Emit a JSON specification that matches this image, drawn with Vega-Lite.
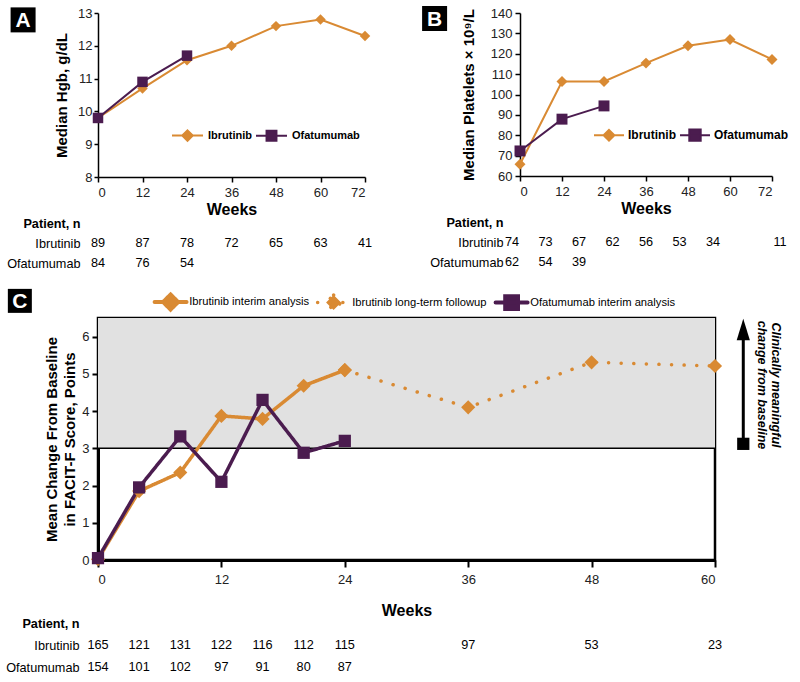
{
  "$schema": "https://vega.github.io/schema/vega-lite/v6.json",
  "background": "white",
  "padding": {"left": 5, "top": 6, "right": 0, "bottom": 0},
  "config": {
    "font": "Liberation Sans",
    "view": {"stroke": null},
    "axis": {
      "grid": false,
      "labelFont": "Liberation Sans",
      "labelFontSize": 13,
      "labelColor": "#222",
      "labelOverlap": false,
      "titleFont": "Liberation Sans",
      "titleFontWeight": "bold",
      "titleColor": "black",
      "domainColor": "black",
      "domainWidth": 1.5,
      "tickColor": "black",
      "tickWidth": 1.5,
      "zindex": 1
    },
    "legend": {"labelFont": "Liberation Sans", "labelColor": "black", "padding": 0}
  },
  "spacing": 17,
  "resolve": {
    "scale": {"color": "independent", "fill": "independent", "shape": "independent", "strokeDash": "independent"},
    "legend": {"color": "independent"}
  },
  "vconcat": [
    {
      "spacing": 49,
      "resolve": {
        "scale": {"color": "independent", "fill": "independent", "shape": "independent", "strokeDash": "independent"},
        "legend": {"color": "independent"}
      },
      "hconcat": [
        {
          "spacing": 0,
          "vconcat": [
            {
              "width": 267,
              "height": 164,
              "data": {"values": [
                {"series": "Ibrutinib", "week": 0, "value": 9.8},
                {"series": "Ibrutinib", "week": 12, "value": 10.7},
                {"series": "Ibrutinib", "week": 24, "value": 11.56},
                {"series": "Ibrutinib", "week": 36, "value": 12.0},
                {"series": "Ibrutinib", "week": 48, "value": 12.6},
                {"series": "Ibrutinib", "week": 60, "value": 12.8},
                {"series": "Ibrutinib", "week": 72, "value": 12.3},
                {"series": "Ofatumumab", "week": 0, "value": 9.8},
                {"series": "Ofatumumab", "week": 12, "value": 10.9},
                {"series": "Ofatumumab", "week": 24, "value": 11.7}
              ]},
              "layer": [
                {
                  "mark": {"type": "line", "strokeWidth": 2},
                  "encoding": {
                    "x": {"field": "week", "type": "quantitative", "scale": {"domain": [0, 72], "nice": false},
                      "axis": {"values": [0, 12, 24, 36, 48, 60, 72], "title": "Weeks", "titleFontSize": 16, "titlePadding": 2, "labelPadding": 4, "tickSize": 5}},
                    "y": {"field": "value", "type": "quantitative", "scale": {"domain": [8, 13], "nice": false, "zero": false},
                      "axis": {"values": [8, 9, 10, 11, 12, 13], "tickCount": 6, "title": "Median Hgb, g/dL", "titleFontSize": 15, "titlePadding": 8, "tickSize": 4, "labelPadding": 2}},
                    "color": {"field": "series", "type": "nominal",
                      "scale": {"domain": ["Ibrutinib", "Ofatumumab"], "range": ["#D98A33", "#4B1C4F"]},
                      "legend": {
                        "orient": "none", "legendX": 73, "legendY": 106, "direction": "horizontal", "title": null,
                        "labelFontSize": 11, "labelFontWeight": "bold", "labelOffset": 4, "columnPadding": 0,
                        "symbolSize": 961, "symbolStrokeWidth": 2,
                        "encode": {"symbols": {"update": {
                          "shape": {"signal": "datum.value === 'Ibrutinib' ? 'M-1,0L1,0M0,-0.34L0.34,0L0,0.34L-0.34,0Z' : 'M-1,0L1,0M-0.32,-0.32L0.32,-0.32L0.32,0.32L-0.32,0.32Z'"},
                          "fill": {"signal": "datum.value === 'Ibrutinib' ? '#D98A33' : '#4B1C4F'"},
                          "stroke": {"signal": "datum.value === 'Ibrutinib' ? '#D98A33' : '#4B1C4F'"},
                          "strokeWidth": {"value": 2},
                          "opacity": {"value": 1},
                          "size": {"value": 961}
                        }}}
                      }}
                  }
                },
                {
                  "transform": [{"filter": "datum.series === 'Ibrutinib'"}],
                  "mark": {"type": "point", "shape": "diamond", "filled": true, "color": "#D98A33", "opacity": 1, "size": 110},
                  "encoding": {"x": {"field": "week", "type": "quantitative"}, "y": {"field": "value", "type": "quantitative"}}
                },
                {
                  "transform": [{"filter": "datum.series === 'Ofatumumab'"}],
                  "mark": {"type": "point", "shape": "square", "filled": true, "color": "#4B1C4F", "opacity": 1, "size": 110},
                  "encoding": {"x": {"field": "week", "type": "quantitative"}, "y": {"field": "value", "type": "quantitative"}}
                },
                {
                  "data": {"values": [{"badge": "A"}]},
                  "mark": {"type": "point", "shape": "square", "filled": true, "color": "black", "opacity": 1, "size": 625},
                  "encoding": {"x": {"datum": -20.2, "type": "quantitative"}, "y": {"datum": 12.79, "type": "quantitative"}}
                },
                {
                  "data": {"values": [{"badge": "A"}]},
                  "mark": {"type": "text", "color": "white", "fontSize": 21, "fontWeight": "bold", "baseline": "middle", "dy": 1},
                  "encoding": {"x": {"datum": -20.2, "type": "quantitative"}, "y": {"datum": 12.79, "type": "quantitative"}, "text": {"field": "badge"}}
                }
              ]
            },
            {
              "width": 267,
              "height": 40,
              "data": {"values": [
                {"row": "Ibrutinib", "week": 0, "n": 89},
                {"row": "Ibrutinib", "week": 12, "n": 87},
                {"row": "Ibrutinib", "week": 24, "n": 78},
                {"row": "Ibrutinib", "week": 36, "n": 72},
                {"row": "Ibrutinib", "week": 48, "n": 65},
                {"row": "Ibrutinib", "week": 60, "n": 63},
                {"row": "Ibrutinib", "week": 72, "n": 41},
                {"row": "Ofatumumab", "week": 0, "n": 84},
                {"row": "Ofatumumab", "week": 12, "n": 76},
                {"row": "Ofatumumab", "week": 24, "n": 54}
              ]},
              "mark": {"type": "text", "fontSize": 12.7, "color": "black"},
              "encoding": {
                "x": {"field": "week", "type": "quantitative", "scale": {"domain": [0, 72], "nice": false}, "axis": null},
                "y": {"field": "row", "type": "nominal",
                  "scale": {"type": "point", "domain": ["Patient, n", "Ibrutinib", "Ofatumumab"], "padding": 0},
                  "axis": {"title": null, "domain": false, "ticks": false, "labelPadding": 18, "labelFontSize": 12.7, "labelColor": "black",
                    "labelFontWeight": {"condition": {"test": "datum.value === 'Patient, n'", "value": "bold"}, "value": "normal"}}},
                "text": {"field": "n", "type": "quantitative"}
              }
            }
          ]
        },
        {
          "spacing": 0,
          "vconcat": [
            {
              "width": 252,
              "height": 163,
              "data": {"values": [
                {"series": "Ibrutinib", "week": 0, "value": 65.8},
                {"series": "Ibrutinib", "week": 12, "value": 106.4},
                {"series": "Ibrutinib", "week": 24, "value": 106.4},
                {"series": "Ibrutinib", "week": 36, "value": 115.4},
                {"series": "Ibrutinib", "week": 48, "value": 123.9},
                {"series": "Ibrutinib", "week": 60, "value": 127.0},
                {"series": "Ibrutinib", "week": 72, "value": 117.2},
                {"series": "Ofatumumab", "week": 0, "value": 72.3},
                {"series": "Ofatumumab", "week": 12, "value": 87.9},
                {"series": "Ofatumumab", "week": 24, "value": 94.4}
              ]},
              "layer": [
                {
                  "mark": {"type": "line", "strokeWidth": 2},
                  "encoding": {
                    "x": {"field": "week", "type": "quantitative", "scale": {"domain": [0, 72], "nice": false},
                      "axis": {"values": [0, 12, 24, 36, 48, 60, 72], "title": "Weeks", "titleFontSize": 16, "titlePadding": 2, "labelPadding": 4, "tickSize": 5}},
                    "y": {"field": "value", "type": "quantitative", "scale": {"domain": [60, 140], "nice": false, "zero": false},
                      "axis": {"values": [60, 70, 80, 90, 100, 110, 120, 130, 140], "tickCount": 9, "title": "Median Platelets × 10⁹/L", "titleFontSize": 15, "titlePadding": 14, "tickSize": 5, "labelPadding": 3}},
                    "color": {"field": "series", "type": "nominal",
                      "scale": {"domain": ["Ibrutinib", "Ofatumumab"], "range": ["#D98A33", "#4B1C4F"]},
                      "legend": {
                        "orient": "none", "legendX": 73, "legendY": 106, "direction": "horizontal", "title": null,
                        "labelFontSize": 12, "labelFontWeight": "bold", "labelOffset": 3, "columnPadding": 0,
                        "symbolSize": 900, "symbolStrokeWidth": 2,
                        "encode": {"symbols": {"update": {
                          "shape": {"signal": "datum.value === 'Ibrutinib' ? 'M-1,0L1,0M0,-0.36L0.36,0L0,0.36L-0.36,0Z' : 'M-1,0L1,0M-0.38,-0.38L0.38,-0.38L0.38,0.38L-0.38,0.38Z'"},
                          "fill": {"signal": "datum.value === 'Ibrutinib' ? '#D98A33' : '#4B1C4F'"},
                          "stroke": {"signal": "datum.value === 'Ibrutinib' ? '#D98A33' : '#4B1C4F'"},
                          "strokeWidth": {"value": 2},
                          "opacity": {"value": 1},
                          "size": {"value": 900}
                        }}}
                      }}
                  }
                },
                {
                  "transform": [{"filter": "datum.series === 'Ibrutinib'"}],
                  "mark": {"type": "point", "shape": "diamond", "filled": true, "color": "#D98A33", "opacity": 1, "size": 120},
                  "encoding": {"x": {"field": "week", "type": "quantitative"}, "y": {"field": "value", "type": "quantitative"}}
                },
                {
                  "transform": [{"filter": "datum.series === 'Ofatumumab'"}],
                  "mark": {"type": "point", "shape": "square", "filled": true, "color": "#4B1C4F", "opacity": 1, "size": 120},
                  "encoding": {"x": {"field": "week", "type": "quantitative"}, "y": {"field": "value", "type": "quantitative"}}
                },
                {
                  "data": {"values": [{"badge": "B"}]},
                  "mark": {"type": "point", "shape": "square", "filled": true, "color": "black", "opacity": 1, "size": 625},
                  "encoding": {"x": {"datum": -24.4, "type": "quantitative"}, "y": {"datum": 137.3, "type": "quantitative"}}
                },
                {
                  "data": {"values": [{"badge": "B"}]},
                  "mark": {"type": "text", "color": "white", "fontSize": 21, "fontWeight": "bold", "baseline": "middle", "dy": 1},
                  "encoding": {"x": {"datum": -24.4, "type": "quantitative"}, "y": {"datum": 137.3, "type": "quantitative"}, "text": {"field": "badge"}}
                }
              ]
            },
            {
              "width": 252,
              "height": 40,
              "data": {"values": [
                {"row": "Ibrutinib", "col": 0, "n": 74},
                {"row": "Ibrutinib", "col": 1, "n": 73},
                {"row": "Ibrutinib", "col": 2, "n": 67},
                {"row": "Ibrutinib", "col": 3, "n": 62},
                {"row": "Ibrutinib", "col": 4, "n": 56},
                {"row": "Ibrutinib", "col": 5, "n": 53},
                {"row": "Ibrutinib", "col": 6, "n": 34},
                {"row": "Ibrutinib", "col": 8, "n": 11},
                {"row": "Ofatumumab", "col": 0, "n": 62},
                {"row": "Ofatumumab", "col": 1, "n": 54},
                {"row": "Ofatumumab", "col": 2, "n": 39}
              ]},
              "mark": {"type": "text", "fontSize": 12.7, "color": "black"},
              "encoding": {
                "x": {"field": "col", "type": "quantitative", "scale": {"domain": [0.24, 7.76], "nice": false, "zero": false}, "axis": null},
                "y": {"field": "row", "type": "nominal",
                  "scale": {"type": "point", "domain": ["Patient, n", "Ibrutinib", "Ofatumumab"], "padding": 0},
                  "axis": {"title": null, "domain": false, "ticks": false, "labelPadding": 17, "labelFontSize": 12.7, "labelColor": "black",
                    "labelFontWeight": {"condition": {"test": "datum.value === 'Patient, n'", "value": "bold"}, "value": "normal"}}},
                "text": {"field": "n", "type": "quantitative"}
              }
            }
          ]
        }
      ]
    },
    {
      "spacing": -3,
      "vconcat": [
        {
          "width": 617,
          "height": 242,
          "view": {"stroke": "black", "strokeWidth": 2.5},
          "data": {"values": [
            {"series": "Ibrutinib interim analysis", "week": 0, "value": 0.02},
            {"series": "Ibrutinib interim analysis", "week": 4, "value": 1.85},
            {"series": "Ibrutinib interim analysis", "week": 8, "value": 2.35},
            {"series": "Ibrutinib interim analysis", "week": 12, "value": 3.87},
            {"series": "Ibrutinib interim analysis", "week": 16, "value": 3.79},
            {"series": "Ibrutinib interim analysis", "week": 20, "value": 4.68},
            {"series": "Ibrutinib interim analysis", "week": 24, "value": 5.1},
            {"series": "Ibrutinib long-term followup", "week": 24, "value": 5.1},
            {"series": "Ibrutinib long-term followup", "week": 36, "value": 4.1},
            {"series": "Ibrutinib long-term followup", "week": 48, "value": 5.31},
            {"series": "Ibrutinib long-term followup", "week": 60, "value": 5.21},
            {"series": "Ofatumumab interim analysis", "week": 0, "value": 0.05},
            {"series": "Ofatumumab interim analysis", "week": 4, "value": 1.95},
            {"series": "Ofatumumab interim analysis", "week": 8, "value": 3.32},
            {"series": "Ofatumumab interim analysis", "week": 12, "value": 2.1},
            {"series": "Ofatumumab interim analysis", "week": 16, "value": 4.3},
            {"series": "Ofatumumab interim analysis", "week": 20, "value": 2.88},
            {"series": "Ofatumumab interim analysis", "week": 24, "value": 3.2}
          ]},
          "layer": [
            {
              "data": {"values": [{"zone": "clinically meaningful"}]},
              "mark": {"type": "rect", "color": "#E1E1E1"},
              "encoding": {
                "x": {"datum": 0, "type": "quantitative"}, "x2": {"datum": 60},
                "y": {"datum": 3, "type": "quantitative"}, "y2": {"datum": 6.5}
              }
            },
            {
              "data": {"values": [{"zone": "clinically meaningful"}]},
              "mark": {"type": "rule", "color": "black", "strokeWidth": 1.5},
              "encoding": {
                "x": {"datum": 0, "type": "quantitative"}, "x2": {"datum": 60},
                "y": {"datum": 3, "type": "quantitative"}
              }
            },
            {
              "mark": {"type": "line", "strokeWidth": 3.5, "strokeCap": "round"},
              "encoding": {
                "x": {"field": "week", "type": "quantitative", "scale": {"domain": [0, 60], "nice": false},
                  "axis": {"values": [0, 12, 24, 36, 48, 60], "title": "Weeks", "titleFontSize": 16, "titlePadding": 16, "labelPadding": 6, "tickSize": 7, "domainWidth": 3, "tickWidth": 2}},
                "y": {"field": "value", "type": "quantitative", "scale": {"domain": [0, 6.5], "nice": false},
                  "axis": {"values": [0, 1, 2, 3, 4, 5, 6], "tickCount": 7, "title": ["Mean Change From Baseline", "in FACIT-F Score, Points"], "titleFontSize": 15, "titleLineHeight": 18, "titlePadding": 4, "tickSize": 6, "labelPadding": 3, "domainWidth": 3, "tickWidth": 2}},
                "color": {"field": "series", "type": "nominal",
                  "scale": {"domain": ["Ibrutinib interim analysis", "Ibrutinib long-term followup", "Ofatumumab interim analysis"], "range": ["#D98A33", "#D98A33", "#4B1C4F"]},
                  "legend": {
                    "orient": "none", "legendX": 67, "legendY": -22, "direction": "horizontal", "title": null,
                    "labelFontSize": 11.2, "labelOffset": 13, "columnPadding": 0,
                    "symbolSize": 1024,
                    "encode": {"symbols": {"update": {
                      "shape": {"signal": "datum.value === 'Ofatumumab interim analysis' ? 'M-1,0L1,0M-0.4,-0.4L0.4,-0.4L0.4,0.4L-0.4,0.4Z' : 'M-1,0L1,0M0,-0.47L0.47,0L0,0.47L-0.47,0Z'"},
                      "fill": {"signal": "datum.value === 'Ofatumumab interim analysis' ? '#4B1C4F' : '#D98A33'"},
                      "stroke": {"signal": "datum.value === 'Ofatumumab interim analysis' ? '#4B1C4F' : '#D98A33'"},
                      "strokeWidth": {"signal": "datum.value === 'Ibrutinib long-term followup' ? 3.5 : 4"},
                      "strokeDash": {"signal": "datum.value === 'Ibrutinib long-term followup' ? [0.1, 15.9] : [1, 0]"},
                      "strokeCap": {"value": "round"},
                      "opacity": {"value": 1},
                      "size": {"value": 1024}
                    }}}
                  }},
                "strokeDash": {"field": "series", "type": "nominal",
                  "scale": {"domain": ["Ibrutinib interim analysis", "Ibrutinib long-term followup", "Ofatumumab interim analysis"], "range": [[1, 0], [0.1, 12.5], [1, 0]]},
                  "legend": null}
              }
            },
            {
              "transform": [{"filter": "datum.series !== 'Ofatumumab interim analysis'"}],
              "mark": {"type": "point", "shape": "diamond", "filled": true, "color": "#D98A33", "opacity": 1, "size": 200},
              "encoding": {"x": {"field": "week", "type": "quantitative"}, "y": {"field": "value", "type": "quantitative"}}
            },
            {
              "transform": [{"filter": "datum.series === 'Ofatumumab interim analysis'"}],
              "mark": {"type": "point", "shape": "square", "filled": true, "color": "#4B1C4F", "opacity": 1, "size": 150},
              "encoding": {"x": {"field": "week", "type": "quantitative"}, "y": {"field": "value", "type": "quantitative"}}
            },
            {
              "data": {"values": [{"note": "arrow"}]},
              "mark": {"type": "rule", "color": "black", "strokeWidth": 3},
              "encoding": {"x": {"datum": 62.75, "type": "quantitative"}, "y": {"datum": 3.15, "type": "quantitative"}, "y2": {"datum": 6.1}}
            },
            {
              "data": {"values": [{"note": "arrow"}]},
              "mark": {"type": "point", "shape": "M0,-1L0.55,0.8L-0.55,0.8Z", "filled": true, "color": "black", "opacity": 1, "size": 576},
              "encoding": {"x": {"datum": 62.75, "type": "quantitative"}, "y": {"datum": 6.16, "type": "quantitative"}}
            },
            {
              "data": {"values": [{"note": "arrow"}]},
              "mark": {"type": "point", "shape": "square", "filled": true, "color": "black", "opacity": 1, "size": 150},
              "encoding": {"x": {"datum": 62.75, "type": "quantitative"}, "y": {"datum": 3.12, "type": "quantitative"}}
            },
            {
              "data": {"values": [{"note": "arrow"}]},
              "mark": {"type": "text", "angle": 90, "fontSize": 12.5, "fontWeight": "bold", "fontStyle": "italic", "lineHeight": 14, "align": "center", "baseline": "middle", "color": "black"},
              "encoding": {"x": {"datum": 65.9, "type": "quantitative"}, "y": {"datum": 4.7, "type": "quantitative"}, "text": {"value": ["Clinically meaningful", "change from baseline"]}}
            },
            {
              "data": {"values": [{"badge": "C"}]},
              "mark": {"type": "point", "shape": "square", "filled": true, "color": "black", "opacity": 1, "size": 576},
              "encoding": {"x": {"datum": -7.6, "type": "quantitative"}, "y": {"datum": 6.96, "type": "quantitative"}}
            },
            {
              "data": {"values": [{"badge": "C"}]},
              "mark": {"type": "text", "color": "white", "fontSize": 21, "fontWeight": "bold", "baseline": "middle", "dy": 1},
              "encoding": {"x": {"datum": -7.6, "type": "quantitative"}, "y": {"datum": 6.96, "type": "quantitative"}, "text": {"field": "badge"}}
            }
          ]
        },
        {
          "width": 617,
          "height": 44,
          "data": {"values": [
            {"row": "Ibrutinib", "week": 0, "n": 165},
            {"row": "Ibrutinib", "week": 4, "n": 121},
            {"row": "Ibrutinib", "week": 8, "n": 131},
            {"row": "Ibrutinib", "week": 12, "n": 122},
            {"row": "Ibrutinib", "week": 16, "n": 116},
            {"row": "Ibrutinib", "week": 20, "n": 112},
            {"row": "Ibrutinib", "week": 24, "n": 115},
            {"row": "Ibrutinib", "week": 36, "n": 97},
            {"row": "Ibrutinib", "week": 48, "n": 53},
            {"row": "Ibrutinib", "week": 60, "n": 23},
            {"row": "Ofatumumab", "week": 0, "n": 154},
            {"row": "Ofatumumab", "week": 4, "n": 101},
            {"row": "Ofatumumab", "week": 8, "n": 102},
            {"row": "Ofatumumab", "week": 12, "n": 97},
            {"row": "Ofatumumab", "week": 16, "n": 91},
            {"row": "Ofatumumab", "week": 20, "n": 80},
            {"row": "Ofatumumab", "week": 24, "n": 87}
          ]},
          "mark": {"type": "text", "fontSize": 12.7, "color": "black"},
          "encoding": {
            "x": {"field": "week", "type": "quantitative", "scale": {"domain": [0, 60], "nice": false}, "axis": null},
            "y": {"field": "row", "type": "nominal",
              "scale": {"type": "point", "domain": ["Patient, n", "Ibrutinib", "Ofatumumab"], "padding": 0},
              "axis": {"title": null, "domain": false, "ticks": false, "labelPadding": 19, "labelFontSize": 12.7, "labelColor": "black",
                "labelFontWeight": {"condition": {"test": "datum.value === 'Patient, n'", "value": "bold"}, "value": "normal"}}},
            "text": {"field": "n", "type": "quantitative"}
          }
        }
      ]
    }
  ]
}
